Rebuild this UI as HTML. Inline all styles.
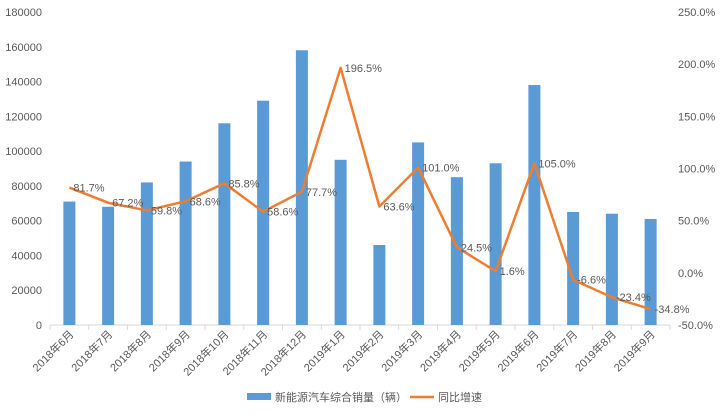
<!DOCTYPE html>
<html><head><meta charset="utf-8"><style>
body{margin:0;background:#fff;}
svg text{font-family:"Liberation Sans","Noto Sans CJK SC",sans-serif;font-size:11px;fill:#595959;}
</style></head><body>
<svg width="720" height="415">
<rect x="0" y="0" width="720" height="415" fill="#fff"/>
<g id="g"></g>
</svg>
<script>
const categories=["2018年6月","2018年7月","2018年8月","2018年9月","2018年10月","2018年11月","2018年12月","2019年1月","2019年2月","2019年3月","2019年4月","2019年5月","2019年6月","2019年7月","2019年8月","2019年9月"];
const salesValues=[71000,68000,82000,94000,116000,129000,158000,95000,46000,105000,85000,93000,138000,65000,64000,61000];
const growthValues=[81.7,67.2,59.8,68.6,85.8,58.6,77.7,196.5,63.6,101.0,24.5,1.6,105.0,-6.6,-23.4,-34.8];
const leftTicks=[0,20000,40000,60000,80000,100000,120000,140000,160000,180000];
const rightTicks=[-50,0,50,100,150,200,250];
const NS="http://www.w3.org/2000/svg";
const g=document.getElementById('g');
const X0=50,X1=670,Y0=325,Y1=12;
const bw=(X1-X0)/categories.length;
const xC=i=>X0+bw*(i+0.5);
const yL=v=>Y0-(v-0)/180000*(Y0-Y1);
const yR=v=>Y0-(v+50)/300*(Y0-Y1);
function mk(t,a,txt){const e=document.createElementNS(NS,t);for(const k in a)e.setAttribute(k,a[k]);if(txt!==undefined)e.textContent=txt;g.appendChild(e);return e;}
leftTicks.forEach(v=>{const e=mk('text',{x:42,y:yL(v)+4,'text-anchor':'end'},String(v));

});
rightTicks.forEach(v=>{const e=mk('text',{x:678,y:yR(v)+4,'text-anchor':'start'},v.toFixed(1)+'%');

});
const ax=mk('line',{x1:X0,y1:Y0,x2:X1,y2:Y0,stroke:'#d9d9d9','stroke-width':1});


for(let i=0;i<=categories.length;i++){const t=mk('line',{x1:X0+bw*i,y1:Y0,x2:X0+bw*i,y2:Y0+5,stroke:'#d9d9d9'});

}
salesValues.forEach((v,i)=>{const r=mk('rect',{x:xC(i)-6,y:yL(v),width:12,height:Y0-yL(v),fill:'#5B9BD5'});

});
categories.forEach((c,i)=>{const x=xC(i)+5,y=Y0+10;const t=mk('text',{x:x,y:y,'text-anchor':'end',transform:`rotate(-45 ${x} ${y})`},c);

});
const pl=mk('polyline',{points:growthValues.map((v,i)=>xC(i)+','+yR(v)).join(' '),fill:'none',stroke:'#ED7D31','stroke-width':2.5,'stroke-linejoin':'round'});


growthValues.forEach((v,i)=>{const t=mk('text',{x:xC(i)+4,y:yR(v)+4,'text-anchor':'start'},v.toFixed(1)+'%');

});
const l1=mk('rect',{x:247,y:393,width:24,height:7,fill:'#5B9BD5'});


const lt1=mk('text',{x:275,y:401,'font-size':'10px'},'新能源汽车综合销量（辆）');


const l2=mk('line',{x1:410,y1:397,x2:434,y2:397,stroke:'#ED7D31','stroke-width':2.5});


const lt2=mk('text',{x:438,y:401,'font-size':'10px'},'同比增速');


</script>
</body></html>
